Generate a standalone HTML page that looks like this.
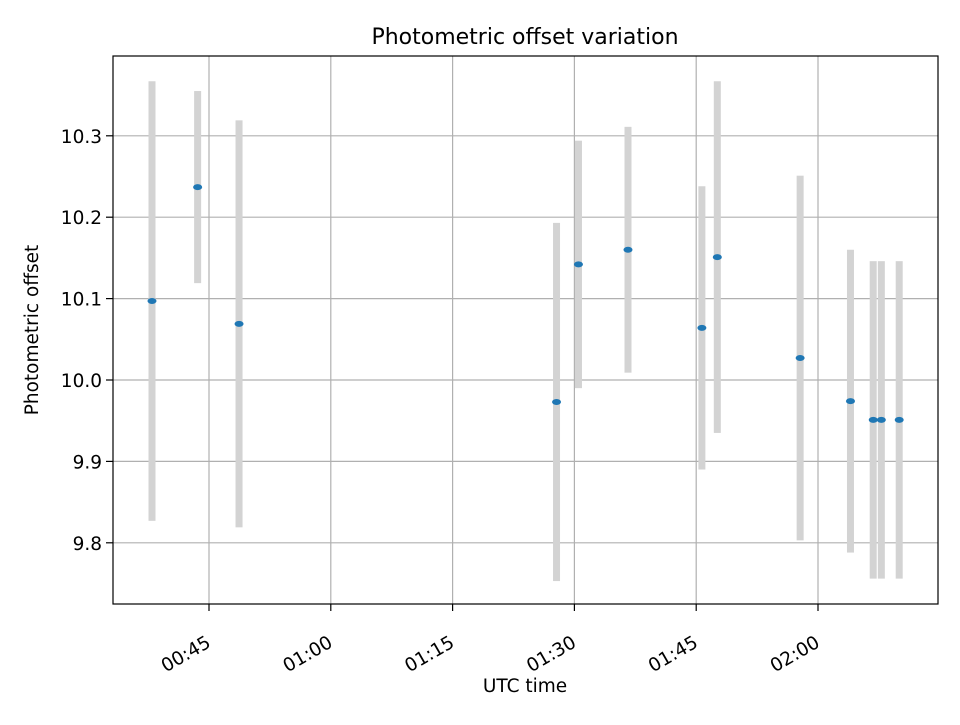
<!DOCTYPE html>
<html><head><meta charset="utf-8"><style>
body{margin:0;background:#fff;}
text{font-family:"DejaVu Sans","Liberation Sans",sans-serif;}
</style></head><body>
<svg id="chart" width="960" height="720" viewBox="0 0 960 720">
<rect width="960" height="720" fill="#fff"/>
<g id="grid"></g>
<g id="bars"></g>
<g id="pts"></g>
<rect x="113" y="56" width="825" height="548" fill="none" stroke="#000" stroke-width="1.2"/>
<g id="axes"></g>
<text x="525" y="44" font-size="22" text-anchor="middle">Photometric offset variation</text>
<text x="525" y="692" font-size="18.5" text-anchor="middle">UTC time</text>
<text transform="translate(38,330) rotate(-90)" font-size="18.5" text-anchor="middle">Photometric offset</text>
</svg>
<script>
const times=[37.98,43.6,48.7,87.8,90.5,96.6,105.7,107.6,117.8,124,126.8,127.8,130];
const values=[10.097,10.237,10.069,9.973,10.142,10.16,10.064,10.151,10.027,9.974,9.951,9.951,9.951];
const errors=[0.27,0.118,0.25,0.22,0.152,0.151,0.174,0.216,0.224,0.186,0.195,0.195,0.195];
const yTicks=[9.8,9.9,10.0,10.1,10.2,10.3];
const yTickLabels=["9.8","9.9","10.0","10.1","10.2","10.3"];
const xTicks=[45,60,75,90,105,120];
const xTickLabels=["00:45","01:00","01:15","01:30","01:45","02:00"];
const NS="http://www.w3.org/2000/svg";
const X=m=>209+(m-45)*121.8/15;
const Y=v=>380-(v-10)*814;
function mk(tag,attrs,parent){const e=document.createElementNS(NS,tag);for(const k in attrs)e.setAttribute(k,attrs[k]);document.getElementById(parent).appendChild(e);return e;}
yTicks.forEach((t,i)=>{const y=Y(t);
 let g=mk('line',{x1:113,x2:938,y1:y,y2:y,stroke:'#b0b0b0','stroke-width':1.2},'grid');
 
 mk('line',{x1:106,x2:113,y1:y,y2:y,stroke:'#000','stroke-width':1.2},'axes');
 let tx=mk('text',{x:102,y:y+7,'font-size':18.5,'text-anchor':'end'},'axes');tx.textContent=yTickLabels[i];
 
});
xTicks.forEach((t,i)=>{const x=X(t);
 let g=mk('line',{x1:x,x2:x,y1:56,y2:604,stroke:'#b0b0b0','stroke-width':1.2},'grid');
 
 mk('line',{x1:x,x2:x,y1:604,y2:611,stroke:'#000','stroke-width':1.2},'axes');
 let tx=mk('text',{transform:`translate(${x+3},646) rotate(-30)`,'font-size':18.5,'text-anchor':'end'},'axes');tx.textContent=xTickLabels[i];
 
});
times.forEach((t,i)=>{const x=X(t);
 let b=mk('rect',{x:x-3.5,y:Y(values[i]+errors[i]),width:7,height:Y(values[i]-errors[i])-Y(values[i]+errors[i]),fill:'#d3d3d3'},'bars');
 
 let p=mk('ellipse',{cx:x,cy:Y(values[i]),rx:4.5,ry:3,fill:'#1f77b4'},'pts');
 
});
</script>
</body></html>
